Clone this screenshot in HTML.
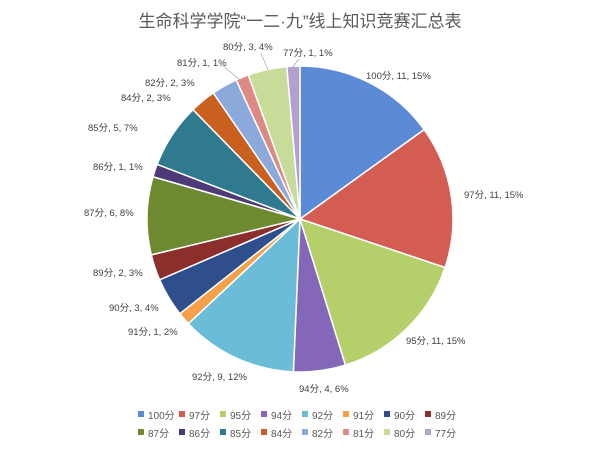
<!DOCTYPE html>
<html><head><meta charset="utf-8"><style>
body{margin:0;background:#fff;}
svg text{font-family:"Liberation Sans","Noto Sans CJK SC",sans-serif;}
</style></head><body>
<svg id="s" width="600" height="450" xmlns="http://www.w3.org/2000/svg">
<rect width="600" height="450" fill="#fff"/>
<text x="300" y="27" text-anchor="middle" font-size="17" fill="#595959">生命科学学院“一二·九”线上知识竞赛汇总表</text>
<g id="pie"></g>
<g font-size="9.5" fill="#404040">
<text x="366" y="79">100分, 11, 15%</text>
<text x="464" y="198">97分, 11, 15%</text>
<text x="406" y="344">95分, 11, 15%</text>
<text x="299" y="392">94分, 4, 6%</text>
<text x="192" y="380">92分, 9, 12%</text>
<text x="128" y="335">91分, 1, 2%</text>
<text x="109" y="311">90分, 3, 4%</text>
<text x="93" y="276">89分, 2, 3%</text>
<text x="84" y="216">87分, 6, 8%</text>
<text x="93" y="170">86分, 1, 1%</text>
<text x="88" y="131">85分, 5, 7%</text>
<text x="121" y="101">84分, 2, 3%</text>
<text x="145" y="86">82分, 2, 3%</text>
<text x="177" y="66">81分, 1, 1%</text>
<text x="223" y="50">80分, 3, 4%</text>
<text x="283" y="56">77分, 1, 1%</text>
</g>
<g stroke="#a6a6a6" stroke-width="0.7" fill="none">
<polyline points="221,64 240,80"/>
<polyline points="261,53 268,70"/>
<polyline points="299,59 292,68"/>
</g>
<g id="leg" font-size="10" fill="#595959"></g>
</svg>
<script>
var d=[["100",11,"#5B8BD6"],["97",11,"#D45D53"],["95",11,"#B5D06A"],["94",4,"#8467B8"],["92",9,"#6BBCD8"],["91",1,"#F5A04A"],["90",3,"#2F4E8C"],["89",2,"#8C2F2C"],["87",6,"#6E8A31"],["86",1,"#4E3A78"],["85",5,"#2F7A8F"],["84",2,"#C9601F"],["82",2,"#8CA9DC"],["81",1,"#DB8A86"],["80",3,"#C7DC98"],["77",1,"#B1A0D0"]];
var cx=300,cy=219,r=153,t=73,a=0,ns="http://www.w3.org/2000/svg",g=document.getElementById("pie"),L=document.getElementById("leg");
d.forEach(function(e,i){var b=a+e[1]/t*2*Math.PI;
var x1=cx+r*Math.sin(a),y1=cy-r*Math.cos(a),x2=cx+r*Math.sin(b),y2=cy-r*Math.cos(b);
var p=document.createElementNS(ns,"path");
p.setAttribute("d","M"+cx+","+cy+"L"+x1+","+y1+"A"+r+","+r+" 0 "+((b-a)>Math.PI?1:0)+" 1 "+x2+","+y2+"Z");
p.setAttribute("fill",e[2]);p.setAttribute("stroke","#fff");p.setAttribute("stroke-width","1.5");g.appendChild(p);a=b;
var row=i<8?0:1,col=i%8,lx=138+col*41,ly=416+row*18;
var q=document.createElementNS(ns,"rect");q.setAttribute("x",lx);q.setAttribute("y",ly-5);q.setAttribute("width",6);q.setAttribute("height",6);q.setAttribute("fill",e[2]);L.appendChild(q);
var tx=document.createElementNS(ns,"text");tx.setAttribute("x",lx+10);tx.setAttribute("y",ly+3);tx.textContent=e[0]+"分";L.appendChild(tx);});
</script>
</body></html>
